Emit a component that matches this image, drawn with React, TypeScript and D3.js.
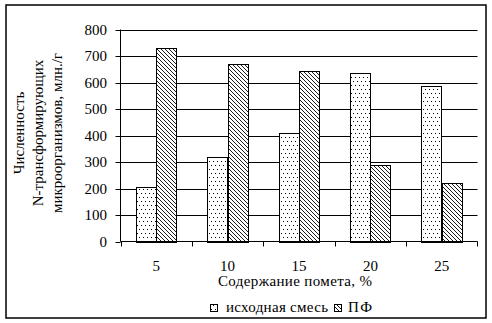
import React from "react";
import * as d3 from "d3";

const categories = ["5", "10", "15", "20", "25"];
const seriesNames = ["исходная смесь", "ПФ"];
const initialMix = [205, 320, 410, 635, 585];
const pf = [730, 670, 645, 290, 220];
const yTicks = [0, 100, 200, 300, 400, 500, 600, 700, 800];
const yTitle = ["Численность", "N-трансформирующих", "микроорганизмов, млн./г"];
const xTitle = "Содержание помета, %";

const W = 492, H = 323;
const left = 120.5, right = 477.5, top = 29.5, bottom = 241.5;
const font = "Liberation Serif";
const fs = 15;

export default function App() {
  const x = d3.scaleBand<string>().domain(categories).range([left, right]).paddingInner(0).paddingOuter(0);
  const y = d3.scaleLinear().domain([0, 800]).range([bottom, top]);
  const bw = x.bandwidth() / 3.5;
  const series = [initialMix, pf];
  const fills = ["url(#dots)", "url(#hatch)"];
  const T = (p: any) => <text fontFamily={font} fontSize={fs} fill="#000" {...p} />;
  return (
    <svg width={W} height={H} style={{ position: "absolute", left: 0, top: 0, background: "#fff" }}>
      <defs>
        <pattern id="dots" width={4} height={8} patternUnits="userSpaceOnUse">
          <rect width={4} height={8} fill="#fff" />
          <rect x={1} y={1} width={1} height={1} fill="#000" />
          <rect x={3} y={5} width={1} height={1} fill="#000" />
        </pattern>
        <pattern id="hatch" width={4} height={4} patternUnits="userSpaceOnUse">
          <rect width={4} height={4} fill="#fff" />
          <path d="M-1,-1 L5,5 M-1,3 L1,5 M3,-1 L5,1" stroke="#000" strokeWidth={0.9} shapeRendering="crispEdges" />
        </pattern>
      </defs>
      <rect x={6} y={5} width={480} height={313} fill="#fff" stroke="#000" strokeWidth={1.5} />
      {yTicks.map((t) => (
        <g key={t}>
          {t > 0 && <line x1={left} x2={right} y1={Math.round(y(t)) + 0.5} y2={Math.round(y(t)) + 0.5} stroke="#000" />}
          <line x1={left - 5} x2={left} y1={Math.round(y(t)) + 0.5} y2={Math.round(y(t)) + 0.5} stroke="#000" />
          <T x={107} y={y(t) + 5} textAnchor="end">{t}</T>
        </g>
      ))}
      {series.map((s, si) =>
        s.map((v, i) => {
          const bx = (x(categories[i]) as number) + bw * 0.75 + si * bw;
          return (
            <rect key={si + "-" + i} x={Math.round(bx) + 0.5} y={Math.round(y(v)) + 0.5}
              width={Math.round(bw)} height={Math.round(bottom) - Math.round(y(v))}
              fill={fills[si]} stroke="#000" strokeWidth={1} />
          );
        })
      )}
      <line x1={left} x2={left} y1={top} y2={bottom} stroke="#000" />
      <line x1={left} x2={right} y1={bottom} y2={bottom} stroke="#000" />
      {categories.map((c, i) => (
        <line key={"t" + i} x1={Math.round(x(c) as number) + 0.5} x2={Math.round(x(c) as number) + 0.5} y1={bottom} y2={bottom + 5} stroke="#000" />
      ))}
      <line x1={right} x2={right} y1={bottom} y2={bottom + 5} stroke="#000" />
      {categories.map((c) => (
        <T key={"l" + c} x={(x(c) as number) + x.bandwidth() / 2} y={271} textAnchor="middle">{c}</T>
      ))}
      <T x={218} y={286} textLength={154} lengthAdjust="spacing">{xTitle}</T>
      {yTitle.map((t, i) => (
        <T key={"yt" + i} transform={`translate(${24 + i * 19},133) rotate(-90)`} textAnchor="middle">{t}</T>
      ))}
      <rect x={210.5} y={304.5} width={7} height={7} fill="url(#dots)" stroke="#000" />
      <T x={226} y={312} textLength={102} lengthAdjust="spacing">{seriesNames[0]}</T>
      <rect x={334.5} y={304.5} width={7} height={7} fill="url(#hatch)" stroke="#000" />
      <T x={348} y={312} textLength={24} lengthAdjust="spacing">{seriesNames[1]}</T>
    </svg>
  );
}
